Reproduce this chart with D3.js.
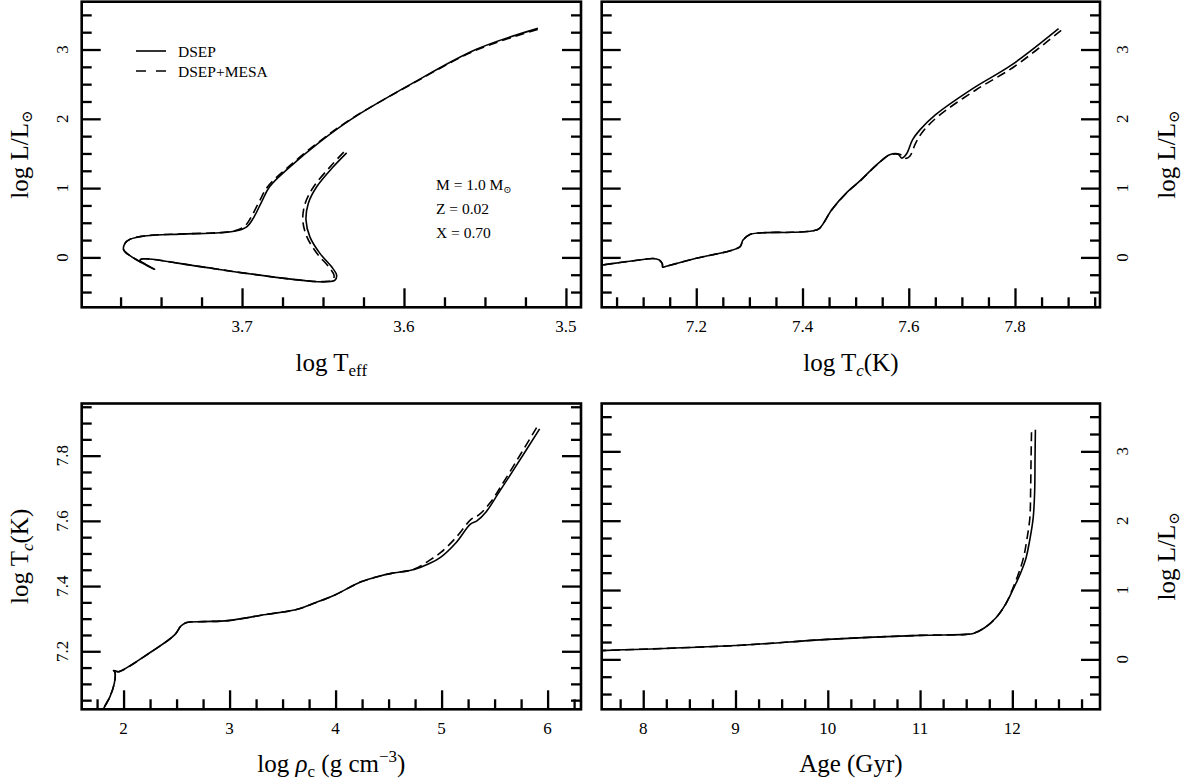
<!DOCTYPE html>
<html><head><meta charset="utf-8">
<script src="https://cdn.jsdelivr.net/npm/d3@7"></script>
<style>
body{margin:0;background:#fff}
svg text{font-family:"Liberation Serif","Times New Roman","DejaVu Serif",serif;fill:#000}
</style></head><body>
<svg id="chart" width="1188" height="782"></svg>
<script>
// ---------------- data ----------------
// Panel 1: HR diagram (log Teff, log L)
const hrTeffDSEP = [3.6354,3.6437,3.6539,3.6591,3.6605,3.6581,3.6519,3.6447,3.6416,3.6426,3.6478,3.6601,3.6971,3.728,3.761,3.763,3.754,3.773,3.7723,3.7692,3.7589,3.7383,3.7136,3.7033,3.6971,3.6931,3.6879,3.6830,3.6704,3.6519,3.6322,3.5957,3.5556,3.5173];
const hrLumDSEP  = [1.509,1.307,1.019,0.779,0.538,0.297,0.058,-0.136,-0.255,-0.328,-0.352,-0.338,-0.231,-0.126,-0.02,-0.039,-0.173,0.105,0.202,0.26,0.312,0.336,0.355,0.384,0.442,0.563,0.802,1.019,1.307,1.668,2.0,2.5,3.0,3.305];
const hrTeffMESA = [3.6372,3.6455,3.6558,3.6610,3.6625,3.6600,3.6538,3.6465,3.6432,3.6440,3.6490,3.6610,3.6975,3.7282,3.7612,3.7630,3.7540,3.7730,3.7723,3.7692,3.7589,3.7383,3.7136,3.7040,3.6985,3.6948,3.6895,3.6842,3.6712,3.6525,3.6325,3.5955,3.5550,3.5160];
const hrLumMESA  = [1.52,1.31,1.02,0.78,0.54,0.30,0.06,-0.135,-0.255,-0.325,-0.348,-0.336,-0.230,-0.125,-0.02,-0.039,-0.172,0.105,0.202,0.262,0.314,0.338,0.358,0.388,0.447,0.565,0.800,1.02,1.31,1.668,2.0,2.498,2.995,3.298];

// Panel 2: log Tc vs log L
const tcTcDSEP  = [7.00,7.022,7.06,7.10,7.118,7.13,7.136,7.137,7.142,7.20,7.282,7.288,7.301,7.333,7.38,7.42,7.432,7.456,7.485,7.507,7.543,7.564,7.579,7.587,7.596,7.607,7.621,7.65,7.721,7.793,7.882];
const tcLumDSEP = [-0.125,-0.11,-0.07,-0.03,-0.015,-0.035,-0.09,-0.14,-0.13,-0.012,0.153,0.25,0.33,0.358,0.362,0.385,0.42,0.70,0.95,1.097,1.361,1.481,1.495,1.433,1.495,1.696,1.84,2.056,2.439,2.774,3.301];
const tcTcMESA  = [7.00,7.022,7.06,7.10,7.118,7.13,7.136,7.137,7.142,7.20,7.282,7.288,7.301,7.333,7.38,7.42,7.432,7.456,7.485,7.507,7.543,7.564,7.579,7.588,7.594,7.602,7.613,7.627,7.656,7.727,7.799,7.889];
const tcLumMESA = [-0.125,-0.11,-0.07,-0.03,-0.015,-0.035,-0.09,-0.14,-0.13,-0.012,0.153,0.25,0.33,0.358,0.362,0.385,0.42,0.695,0.945,1.092,1.358,1.478,1.49,1.472,1.43,1.46,1.65,1.82,2.04,2.42,2.755,3.29];

// Panel 3: log rho_c vs log Tc
const rhoRhoDSEP = [1.78,1.809,1.872,1.913,1.919,1.905,1.925,1.95,2.269,2.484,2.54,2.596,2.75,2.986,3.344,3.631,3.81,3.989,4.24,4.419,4.527,4.742,4.885,4.993,5.136,5.272,5.333,5.423,5.53,5.674,5.925];
const rhoTcDSEP  = [6.99,7.022,7.061,7.102,7.135,7.141,7.14,7.137,7.2,7.251,7.277,7.288,7.291,7.294,7.313,7.328,7.349,7.372,7.413,7.431,7.439,7.451,7.469,7.489,7.533,7.59,7.6,7.629,7.682,7.754,7.882];
const rhoRhoMESA = [1.78,1.809,1.872,1.913,1.919,1.905,1.925,1.95,2.269,2.484,2.54,2.596,2.75,2.986,3.344,3.631,3.81,3.989,4.24,4.419,4.527,4.742,4.885,4.993,5.136,5.28,5.351,5.459,5.602,5.907];
const rhoTcMESA  = [6.99,7.022,7.061,7.102,7.135,7.141,7.14,7.137,7.2,7.251,7.277,7.288,7.291,7.294,7.313,7.328,7.349,7.372,7.413,7.431,7.439,7.452,7.479,7.503,7.549,7.605,7.618,7.656,7.728,7.892];

// Panel 4: age vs log L
const ageAgeDSEP = [7.5,9.0,10.0,11.0,11.495,11.577,11.7,11.823,11.926,12.008,12.09,12.144,12.193,12.226,12.242,12.246,12.25];
const ageLumDSEP = [0.125,0.2,0.288,0.346,0.36,0.374,0.456,0.6,0.792,1.008,1.248,1.44,1.752,2.04,2.424,2.904,3.312];
const ageAgeMESA = [7.5,9.0,10.0,11.0,11.495,11.577,11.7,11.823,11.926,12.0,12.07,12.12,12.16,12.19,12.198,12.203,12.208];
const ageLumMESA = [0.125,0.2,0.288,0.346,0.36,0.374,0.456,0.6,0.792,1.008,1.248,1.46,1.75,2.04,2.424,2.9,3.29];

// ticks
const teffMajor = [3.7,3.6,3.5];
const teffMinor = [3.775,3.75,3.725,3.675,3.65,3.625,3.575,3.55,3.525];
const teffLabels = ["3.7","3.6","3.5"];
const lumMajor = [0,1,2,3];
const lumMinor = [-0.5,-0.25,0.25,0.5,0.75,1.25,1.5,1.75,2.25,2.5,2.75,3.25,3.5];
const lumLabels = ["0","1","2","3"];
const tcMajor = [7.2,7.4,7.6,7.8];
const tcMinor = [7.05,7.1,7.15,7.25,7.3,7.35,7.45,7.5,7.55,7.65,7.7,7.75,7.85,7.9,7.95];
const tcLabels = ["7.2","7.4","7.6","7.8"];
const rhoMajor = [2,3,4,5,6];
const rhoMinor = [1.75,2.25,2.5,2.75,3.25,3.5,3.75,4.25,4.5,4.75,5.25,5.5,5.75,6.25];
const rhoLabels = ["2","3","4","5","6"];
const ageMajor = [8,9,10,11,12];
const ageMinor = [7.75,8.25,8.5,8.75,9.25,9.5,9.75,10.25,10.5,10.75,11.25,11.5,11.75,12.25,12.5,12.75];
const ageLabels = ["8","9","10","11","12"];

const legendNames = ["DSEP","DSEP+MESA"];
const annotLines = ["Z = 0.02","X = 0.70"];

// ---------------- drawing ----------------
const svg = d3.select("#chart");
const TICK = 17, TITLE = 25, SMALL = 15.5;
const MAJ = 19, MIN = 10;

const L = {x0:81.7, x1:581}, R = {x0:601.7, x1:1100};
const T = {y0:1.7, y1:307.3}, B = {y0:403.5, y1:709.3};

function panel(id, hx, vy, x, y, xMaj, xMin, xLab, yMaj, yMin, yLab, ySide, series){
  const g = svg.append("g");
  const [X0,X1] = [hx.x0,hx.x1], [Y0,Y1] = [vy.y0,vy.y1];
  const clipId = "clip"+id;
  svg.append("defs").append("clipPath").attr("id",clipId)
     .append("rect").attr("x",X0).attr("y",Y0).attr("width",X1-X0).attr("height",Y1-Y0);
  const line = d3.line().x(d=>x(d[0])).y(d=>y(d[1])).curve(d3.curveCatmullRom.alpha(0.5));
  const cg = g.append("g").attr("clip-path",`url(#${clipId})`);
  series.forEach(s=>{
    cg.append("path").attr("d", line(d3.zip(s.xs, s.ys)))
      .attr("fill","none").attr("stroke","#000").attr("stroke-width",1.6)
      .attr("stroke-dasharray", s.dash ? "9,5" : null)
      .attr("stroke-linejoin","round");
  });
  const addAxis = (axis, tr) => {
    const a = g.append("g").attr("transform",tr).call(axis);
    a.select(".domain").remove();
    a.selectAll("line").attr("stroke","#000").attr("stroke-width",2.3);
    a.selectAll("text").remove();
  };
  addAxis(d3.axisBottom(x).tickValues(xMaj).tickSize(-MAJ), `translate(0,${Y1})`);
  addAxis(d3.axisBottom(x).tickValues(xMin).tickSize(-MIN), `translate(0,${Y1})`);
  addAxis(d3.axisLeft(y).tickValues(yMaj).tickSize(-MAJ), `translate(${X0},0)`);
  addAxis(d3.axisLeft(y).tickValues(yMin).tickSize(-MIN), `translate(${X0},0)`);
  addAxis(d3.axisRight(y).tickValues(yMaj).tickSize(-MAJ), `translate(${X1},0)`);
  addAxis(d3.axisRight(y).tickValues(yMin).tickSize(-MIN), `translate(${X1},0)`);
  g.append("rect").attr("x",X0).attr("y",Y0).attr("width",X1-X0).attr("height",Y1-Y0)
    .attr("fill","none").attr("stroke","#000").attr("stroke-width",2.6);
  g.selectAll(".xl").data(xMaj).enter().append("text")
    .attr("x",d=>x(d)).attr("y",Y1+25).attr("text-anchor","middle")
    .attr("font-size",TICK).text((d,i)=>xLab[i]);
  const lx = ySide==="left" ? X0-20 : X1+22;
  g.selectAll(".yl").data(yMaj).enter().append("text")
    .attr("transform",d=>`translate(${lx},${y(d)}) rotate(-90)`)
    .attr("dy","0.35em").attr("text-anchor","middle")
    .attr("font-size",TICK).text((d,i)=>yLab[i]);
  return g;
}

const xTeff = d3.scaleLinear().domain([3.799,3.4907]).range([L.x0,L.x1]);
const yLumT = d3.scaleLinear().domain([-0.72,3.69]).range([T.y1,T.y0]);
const xTc = d3.scaleLinear().domain([7.022,7.96]).range([R.x0,R.x1]);
const xRho = d3.scaleLinear().domain([1.605,6.315]).range([L.x0,L.x1]);
const yTc = d3.scaleLinear().domain([7.022,7.96]).range([B.y1,B.y0]);
const xAge = d3.scaleLinear().domain([7.55,12.95]).range([R.x0,R.x1]);
const yLumB = d3.scaleLinear().domain([-0.72,3.69]).range([B.y1,B.y0]);

panel(1, L, T, xTeff, yLumT, teffMajor, teffMinor, teffLabels, lumMajor, lumMinor, lumLabels, "left",
  [{xs:hrTeffMESA, ys:hrLumMESA, dash:true},{xs:hrTeffDSEP, ys:hrLumDSEP}]);
panel(2, R, T, xTc, yLumT, tcMajor, tcMinor, tcLabels, lumMajor, lumMinor, lumLabels, "right",
  [{xs:tcTcMESA, ys:tcLumMESA, dash:true},{xs:tcTcDSEP, ys:tcLumDSEP}]);
panel(3, L, B, xRho, yTc, rhoMajor, rhoMinor, rhoLabels, tcMajor, tcMinor, tcLabels, "left",
  [{xs:rhoRhoMESA, ys:rhoTcMESA, dash:true},{xs:rhoRhoDSEP, ys:rhoTcDSEP}]);
panel(4, R, B, xAge, yLumB, ageMajor, ageMinor, ageLabels, lumMajor, lumMinor, lumLabels, "right",
  [{xs:ageAgeMESA, ys:ageLumMESA, dash:true},{xs:ageAgeDSEP, ys:ageLumDSEP}]);

function xTitle(cx, yb, build){ const t = svg.append("text").attr("x",cx).attr("y",yb).attr("text-anchor","middle").attr("font-size",TITLE); build(t); }
function yTitle(cx, cy, build){ const t = svg.append("text").attr("transform",`translate(${cx},${cy}) rotate(-90)`).attr("dy","0.35em").attr("text-anchor","middle").attr("font-size",TITLE); build(t); }

const lumTitle = t => { t.append("tspan").text("log L/L"); t.append("tspan").attr("font-size",15).attr("dy",4).text("\u2299"); };
xTitle((L.x0+L.x1)/2, T.y1+64, t=>{ t.append("tspan").text("log T"); t.append("tspan").attr("font-size",17).attr("dy",5).text("eff"); });
xTitle((R.x0+R.x1)/2, T.y1+64, t=>{ t.append("tspan").text("log T"); t.append("tspan").attr("font-size",17).attr("dy",5).attr("font-style","italic").text("c"); t.append("tspan").attr("dy",-5).text("(K)"); });
xTitle((L.x0+L.x1)/2, B.y1+63, t=>{ t.append("tspan").text("log "); t.append("tspan").attr("font-style","italic").text("\u03C1"); t.append("tspan").attr("font-size",17).attr("dy",5).text("c"); t.append("tspan").attr("dy",-5).text(" (g cm"); t.append("tspan").attr("font-size",17).attr("dy",-10).text("\u22123"); t.append("tspan").attr("dy",10).text(")"); });
xTitle((R.x0+R.x1)/2, B.y1+63, t=>{ t.text("Age (Gyr)"); });
yTitle(19, (T.y0+T.y1)/2, lumTitle);
yTitle(1166, (T.y0+T.y1)/2, lumTitle);
yTitle(19, (B.y0+B.y1)/2, t=>{ t.append("tspan").text("log T"); t.append("tspan").attr("font-size",17).attr("dy",5).attr("font-style","italic").text("c"); t.append("tspan").attr("dy",-5).text("(K)"); });
yTitle(1166, (B.y0+B.y1)/2, lumTitle);

// Legend (panel 1)
const lg = svg.append("g");
legendNames.forEach((n,i)=>{
  const yy = 51 + i*20;
  lg.append("line").attr("x1",136).attr("x2",166).attr("y1",yy).attr("y2",yy)
    .attr("stroke","#000").attr("stroke-width",1.6).attr("stroke-dasharray", i===1 ? "10,10" : null);
  lg.append("text").attr("x",178).attr("y",yy+5.5).attr("font-size",SMALL).text(n);
});

// Annotation
const an = svg.append("g");
const m = an.append("text").attr("x",436).attr("y",190).attr("font-size",SMALL);
m.append("tspan").text("M = 1.0 M"); m.append("tspan").attr("font-size",10).attr("dy",3).text("\u2299");
annotLines.forEach((s,i)=>{
  an.append("text").attr("x",436).attr("y",214+i*24).attr("font-size",SMALL).text(s);
});
</script>
</body></html>
